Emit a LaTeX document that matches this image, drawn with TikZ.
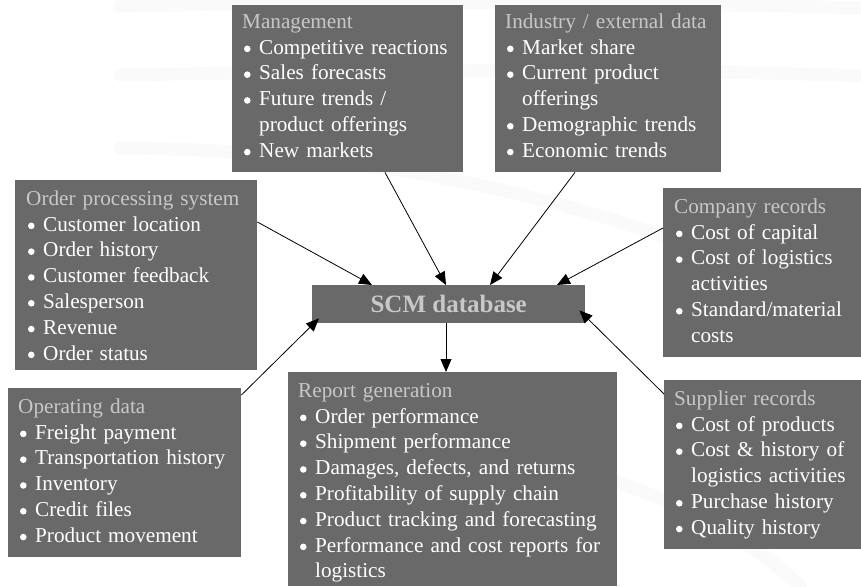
\documentclass[tikz,border=0pt]{standalone}
\usepackage{fontspec}
\setmainfont{Liberation Serif}
\usetikzlibrary{calc,arrows.meta}
\definecolor{panelgray}{HTML}{696969}
\definecolor{titlegray}{HTML}{C8C8C8}
\definecolor{swoosh}{HTML}{FAFAFA}
\newcommand{\bul}{\tikz[baseline=-5.2pt]\fill[white] (0pt,0pt) circle (3.3pt);}
\newcommand{\bl}[1]{\strut\makebox[17pt][l]{\hspace{1.8pt}\bul}#1}
\newcommand{\cl}[1]{\strut\hspace*{17pt}#1}
\newcommand{\ttl}[1]{\strut\textcolor{titlegray}{#1}}
\tikzset{
  panel/.style={fill=panelgray, draw=none, inner sep=0pt, anchor=north west},
  txt/.style={inner sep=0pt, anchor=north west, text=white, align=left, text width=#1,
    font=\fontsize{21.2}{25.8}\selectfont},
  arr/.style={draw=black, line width=0.8pt, -{Triangle[length=13pt,width=11pt]}},
  band/.style={draw=swoosh, line width=13pt, line cap=round},
}
\begin{document}
\begin{tikzpicture}[x=1pt,y=-1pt]
\useasboundingbox (0,0) rectangle (861,586);
% faint background swooshes
\draw[band] (120,6) .. controls (400,0) and (650,2) .. (861,8);
\draw[band] (120,75) .. controls (400,70) and (650,68) .. (861,76);
\draw[band] (120,148) .. controls (450,150) and (680,230) .. (861,320);
\draw[band] (400,440) .. controls (600,455) and (730,520) .. (800,586);

% panels
\node[panel, minimum width=231pt, minimum height=167pt] (mgmt) at (232,5) {};
\node[txt=225pt] (mgmtT) at ($(mgmt.north west)+(10,5)$) {\ttl{Management}\\
\bl{Competitive reactions}\\ \bl{Sales forecasts}\\ \bl{Future trends /}\\
\cl{product offerings}\\ \bl{New markets}};

\node[panel, minimum width=226pt, minimum height=167pt] (ind) at (495,5) {};
\node[txt=220pt] (indT) at ($(ind.north west)+(10,5)$) {\ttl{Industry / external data}\\
\bl{Market share}\\ \bl{Current product}\\ \cl{offerings}\\
\bl{Demographic trends}\\ \bl{Economic trends}};

\node[panel, minimum width=242pt, minimum height=190pt] (ord) at (15,180) {};
\node[txt=236pt] (ordT) at ($(ord.north west)+(11,7)$) {\ttl{Order processing system}\\
\bl{Customer location}\\ \bl{Order history}\\ \bl{Customer feedback}\\
\bl{Salesperson}\\ \bl{Revenue}\\ \bl{Order status}};

\node[panel, minimum width=198pt, minimum height=169pt] (comp) at (663,188) {};
\node[txt=192pt] (compT) at ($(comp.north west)+(11,7)$) {\ttl{Company records}\\
\bl{Cost of capital}\\ \bl{Cost of logistics}\\ \cl{activities}\\
\bl{Standard/material}\\ \cl{costs}};

\node[panel, minimum width=273pt, minimum height=38pt, text=titlegray,
  font=\fontsize{25}{30}\selectfont\bfseries] (scm) at (312,285) {SCM database};

\node[panel, minimum width=233pt, minimum height=169pt] (oper) at (8,388) {};
\node[txt=228pt] (operT) at ($(oper.north west)+(10,7)$) {\ttl{Operating data}\\
\bl{Freight payment}\\ \bl{Transportation history}\\ \bl{Inventory}\\
\bl{Credit files}\\ \bl{Product movement}};

\node[panel, minimum width=329pt, minimum height=214pt] (rep) at (288,372) {};
\node[txt=322pt] (repT) at ($(rep.north west)+(10,7)$) {\ttl{Report generation}\\
\bl{Order performance}\\ \bl{Shipment performance}\\ \bl{Damages, defects, and returns}\\
\bl{Profitability of supply chain}\\ \bl{Product tracking and forecasting}\\
\bl{Performance and cost reports for}\\ \cl{logistics}};

\node[panel, minimum width=197pt, minimum height=169pt] (sup) at (664,380) {};
\node[txt=192pt] (supT) at ($(sup.north west)+(10,7)$) {\ttl{Supplier records}\\
\bl{Cost of products}\\ \bl{Cost \& history of}\\ \cl{logistics activities}\\
\bl{Purchase history}\\ \bl{Quality history}};

% connectors
\draw[arr] ($(mgmt.south west)+(153,0)$) -- ($(scm.north west)+(134,0)$);
\draw[arr] ($(ind.south west)+(80,0)$) -- ($(scm.north west)+(178,0)$);
\draw[arr] ($(ord.north east)+(0,42)$) -- ($(scm.north west)+(60,0)$);
\draw[arr] ($(comp.north west)+(0,40)$) -- ($(scm.north west)+(245,0)$);
\draw[arr] ($(oper.north east)+(0,7)$) -- ($(scm.south west)+(7,-5)$);
\draw[arr] ($(sup.north west)+(0,14)$) -- ($(scm.south east)+(-6,-13)$);
\draw[arr] ($(scm.south west)+(134,0)$) -- ($(rep.north west)+(158,0)$);
\end{tikzpicture}
\end{document}
